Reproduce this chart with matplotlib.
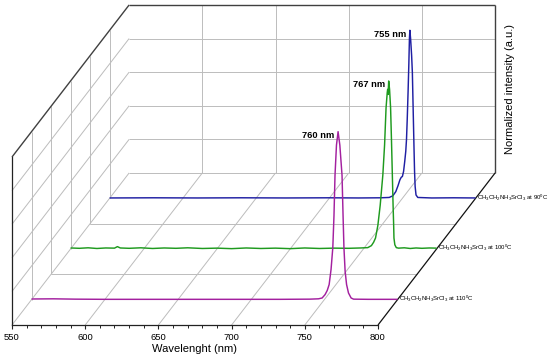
import numpy as np
import matplotlib
matplotlib.use('Agg')
import matplotlib.pyplot as plt
from matplotlib.ticker import MultipleLocator

plt.rcParams['font.family'] = ['Liberation Sans', 'DejaVu Sans']
plt.rcParams['mathtext.fontset'] = 'custom'
plt.rcParams['mathtext.rm'] = 'Liberation Sans'
plt.rcParams['mathtext.it'] = 'Liberation Sans:italic'
plt.rcParams['mathtext.bf'] = 'Liberation Sans:bold'

# spectra (wavelength in nm, normalized intensity)
wl_90 = [550, 580, 610, 640, 670, 700, 720, 735, 741, 743.5,
         745.5, 747, 748.3, 749.2, 750, 750.8, 751.6, 752.3, 752.8, 753.3,
         753.9, 754.4, 754.8, 755.1, 755.6, 756.3, 756.8, 757.5, 757.9, 758.3,
         758.7, 759.3, 760.5, 770, 785, 800]
int_90 = [0.002, 0.003, 0.002, 0.003, 0.002, 0.003, 0.002, 0.003, 0.005, 0.015,
          0.04, 0.075, 0.11, 0.125, 0.13, 0.16, 0.22, 0.28, 0.35, 0.47,
          0.64, 0.8, 0.95, 1.0, 0.95, 0.85, 0.75, 0.47, 0.31, 0.16,
          0.07, 0.02, 0.005, 0.002, 0.003, 0.002]

wl_100 = [550, 556, 562, 568, 574, 580, 582, 584, 590, 598,
          606, 614, 622, 630, 640, 650, 660, 670, 680, 690,
          700, 710, 720, 730, 740, 748, 753, 755.5, 757, 758.3,
          759.9, 761.5, 763.3, 764.5, 765.5, 766.3, 766.6, 766.9, 767.3, 767.9,
          768.6, 769.2, 769.8, 770.3, 770.7, 770.9, 771.5, 772.5, 774, 778,
          782, 786, 790, 795, 800]
int_100 = [0.006, 0.004, 0.007, 0.003, 0.006, 0.005, 0.014, 0.006, 0.004, 0.007,
           0.003, 0.006, 0.004, 0.007, 0.003, 0.005, 0.002, 0.006, 0.003, 0.005,
           0.002, 0.006, 0.003, 0.005, 0.004, 0.006, 0.008, 0.02, 0.04, 0.065,
           0.14, 0.26, 0.44, 0.62, 0.84, 0.93, 0.95, 0.92, 1.0, 0.95,
           0.84, 0.65, 0.44, 0.26, 0.14, 0.065, 0.025, 0.008, 0.005, 0.007,
           0.003, 0.006, 0.004, 0.006, 0.005]

wl_110 = [550, 565, 580, 600, 630, 660, 690, 720, 740, 746,
          748.5, 750.5, 752, 753.3, 754.6, 755.8, 756.6, 757.3, 758.3, 759.4,
          760.6, 762.1, 762.8, 763.4, 764.2, 765.2, 766.5, 768.3, 770, 780,
          800]
int_110 = [0.004, 0.005, 0.003, 0.002, 0.002, 0.002, 0.002, 0.002, 0.003, 0.005,
           0.01, 0.03, 0.055, 0.09, 0.18, 0.31, 0.5, 0.74, 0.92, 1.0,
           0.92, 0.74, 0.5, 0.31, 0.17, 0.09, 0.04, 0.01, 0.003, 0.002,
           0.002]

series_labels = [r'CH$_3$CH$_2$NH$_3$SrCl$_3$ at 90$^0$C',
                 r'CH$_3$CH$_2$NH$_3$SrCl$_3$ at 100$^0$C',
                 r'CH$_3$CH$_2$NH$_3$SrCl$_3$ at 110$^0$C']
peak_labels = ['755 nm', '767 nm', '760 nm']
depths = [5 / 6, 3 / 6, 1 / 6]
colors = ['#1f1fa3', '#1e9a1e', '#a3209f']

# oblique offset of the back plane, in data units
DX = 80.0
DZ = 0.905
GRID = '#bcbcbc'
EDGE = '#404040'


def proj(wl, d, z):
    """map (wavelength, depth 0..1, intensity) onto the flat axes"""
    return np.asarray(wl, float) + np.asarray(d, float) * DX, \
        np.asarray(z, float) + np.asarray(d, float) * DZ


def line3(ax, wl, d, z, **kw):
    x, y = proj(wl, d, z)
    ax.plot(x, y, clip_on=False, solid_capstyle='butt', **kw)


fig = plt.figure(figsize=(5.5, 3.58), dpi=100)
ax = fig.add_axes([12 / 550, 33 / 358, 366 / 550, 168 / 358])
ax.set_xlim(550, 800)
ax.set_ylim(0, 1)

for s in ['top', 'right']:
    ax.spines[s].set_visible(False)
for s in ['bottom', 'left']:
    ax.spines[s].set_color('#222222')
    ax.spines[s].set_linewidth(0.9)
ax.set_yticks([])
ax.xaxis.set_major_locator(MultipleLocator(50))
ax.xaxis.set_minor_locator(MultipleLocator(10))
ax.tick_params(axis='x', which='major', direction='out', length=3, width=0.8,
               labelsize=6.8, pad=3, color='#222222')
ax.tick_params(axis='x', which='minor', direction='out', length=2, width=0.7,
               color='#222222')
ax.set_xlabel('Wavelenght (nm)', fontsize=8, labelpad=1)

# floor grid
gkw = dict(color=GRID, lw=0.7, zorder=1)
for w in [550, 600, 650, 700, 750]:
    line3(ax, [w, w], [0, 1], [0, 0], **gkw)
for d in [1 / 3, 2 / 3, 1]:
    line3(ax, [550, 800], [d, d], [0, 0], **gkw)

# left wall grid
for z in [0.2, 0.4, 0.6, 0.8]:
    line3(ax, [550, 550], [0, 1], [z, z], **gkw)
for k in range(1, 6):
    line3(ax, [550, 550], [k / 6, k / 6], [0, 1], **gkw)

# back wall grid
for z in [0.2, 0.4, 0.6, 0.8]:
    line3(ax, [550, 800], [1, 1], [z, z], **gkw)
for w in [600, 650, 700, 750]:
    line3(ax, [w, w], [1, 1], [0, 1], **gkw)

# box edges
ekw = dict(color=EDGE, lw=1.0, zorder=2)
line3(ax, [550, 550], [0, 1], [1, 1], **ekw)
line3(ax, [550, 800], [1, 1], [1, 1], **ekw)
line3(ax, [800, 800], [1, 1], [0, 1], **ekw)
line3(ax, [800, 800], [0, 1], [0, 0], color='#111111', lw=0.9, zorder=2)

# spectra, back to front
spectra = [(wl_90, int_90), (wl_100, int_100), (wl_110, int_110)]
for (wl, inten), d, c, lab, plab in zip(spectra, depths, colors,
                                         series_labels, peak_labels):
    line3(ax, wl, [d] * len(wl), inten, color=c, lw=1.05, zorder=3)
    # label at the end of each trace
    ex, ey = proj(wl[-1], d, inten[-1])
    ax.annotate(lab, (ex, ey), xytext=(1, 0), textcoords='offset pixels',
                ha='left', va='center', fontsize=4.35, annotation_clip=False)
    # peak wavelength label
    i = int(np.argmax(inten))
    px, py = proj(wl[i], d, inten[i])
    ax.annotate(plab, (px, py), xytext=(-4, -4), textcoords='offset pixels',
                ha='right', va='center', fontsize=6.7, fontweight='bold',
                annotation_clip=False)

fig.text(510 / 550, 1 - 89 / 358, 'Normalized intensity (a.u.)',
         rotation=90, ha='center', va='center', fontsize=8)

fig.savefig('out.png', dpi=100)
